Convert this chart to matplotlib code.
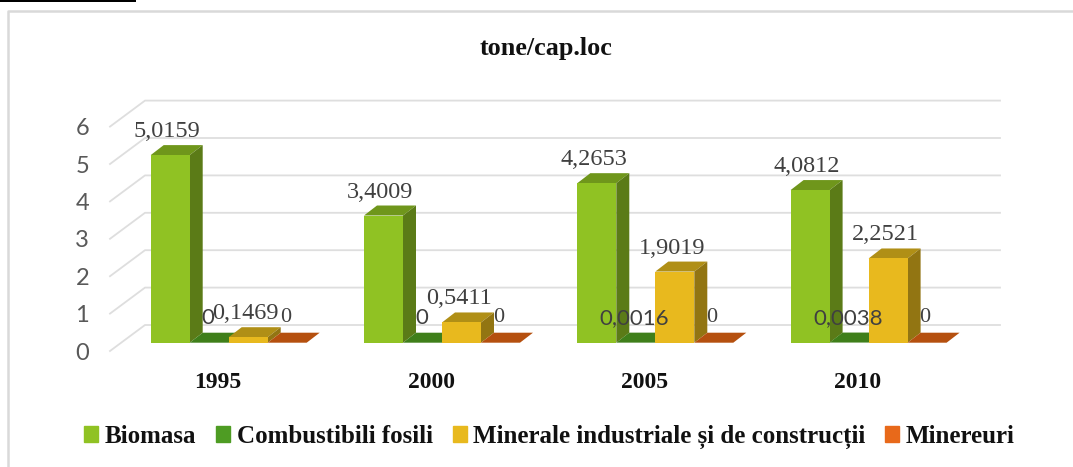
import matplotlib
matplotlib.use("Agg")
import matplotlib.pyplot as plt
from matplotlib.lines import Line2D
from matplotlib.patches import Rectangle

years = ["1995", "2000", "2005", "2010"]
series = ["Biomasa", "Combustibili fosili", "Minerale industriale și de construcții", "Minereuri"]
biomasa = [5.0159, 3.4009, 4.2653, 4.0812]
fosili = [0, 0, 0.0016, 0.0038]
minerale = [0.1469, 0.5411, 1.9019, 2.2521]
minereuri = [0, 0, 0, 0]
biomasa_labels = ["5,0159", "3,4009", "4,2653", "4,0812"]
fosili_labels = ["0", "0", "0,0016", "0,0038"]
minerale_labels = ["0,1469", "0,5411", "1,9019", "2,2521"]
minereuri_labels = ["0", "0", "0", "0"]

W, H = 1073, 467
SERIF = "Liberation Serif"
SANS = "Lato"

# front, side, top colours of each series
colors = [
    ("#90C223", "#5B7B17", "#6F961B"),
    ("#4E9C23", "#3E7C1B", "#3F7F1A"),
    ("#E8B91E", "#927512", "#B08F16"),
    ("#E8691A", "#B24F12", "#B5500F"),
]

fig = plt.figure(figsize=(W / 100, H / 100), dpi=100)
# axes: left/right edge of the side wall, y=0 and y=6 on its front edge
ax = fig.add_axes([110 / W, 1 - 351 / H, 890 / W, 224.4 / H])
ax.set_xlim((110 - 218) / 213.3, (1000 - 218) / 213.3)
ax.set_ylim(0, 6)
for s in ax.spines.values():
    s.set_visible(False)

unit_x = 213.3
unit_y = 37.4
bar_w = 39 / unit_x
left0 = (150.7 - 218) / unit_x
base = 8.3 / unit_y
dx = 13 / unit_x
dy = 10 / unit_y
back_x = 35 / unit_x
back_y = 26 / unit_y
label_up = 23.5 / unit_y
zero_up = 24.7 / unit_y

ax.set_yticks(range(7))
ax.set_xticks(range(len(years)))
ax.set_xticklabels(years, fontfamily=SERIF, fontweight="bold", fontsize=17, color="#111111")
ax.tick_params(axis="x", length=0, pad=15)
ax.tick_params(axis="y", length=0, pad=15, labelsize=17, labelcolor="#595959")
for t in ax.get_yticklabels():
    t.set_fontfamily(SANS)

# grid on the back wall and the side wall
xmin, xmax = ax.get_xlim()
for v in range(7):
    ax.plot([xmin, xmin + back_x, xmax], [v, v + back_y, v + back_y], color="#DEDEDE", lw=1.3,
            clip_on=False, zorder=1)

values = [biomasa, fosili, minerale, minereuri]
for i in range(len(years)):
    for j, vals in enumerate(values):
        x0 = i + left0 + j * bar_w
        x1 = x0 + bar_w
        y0 = base
        y1 = base + vals[i]
        front, side, top = colors[j]
        z = 2 + i + j * 0.1
        ax.fill([x0, x1, x1 + dx, x0 + dx], [y1, y1, y1 + dy, y1 + dy], color=top, lw=0, clip_on=False, zorder=z)
        ax.fill([x1, x1 + dx, x1 + dx, x1], [y0, y0 + dy, y1 + dy, y1], color=side, lw=0, clip_on=False, zorder=z)
        if vals[i] > 0.01:
            ax.fill([x0, x1, x1, x0], [y0, y0, y1, y1], color=front, lw=0, clip_on=False, zorder=z)

# data labels
for i in range(len(years)):
    ax.text(i + left0 + 0.42 * bar_w, base + biomasa[i] + label_up, biomasa_labels[i], family=SERIF, fontsize=17.5,
            color="#404040", ha="center", va="center", zorder=20)
    ax.text(i + left0 + 2.44 * bar_w, base + minerale[i] + label_up, minerale_labels[i], family=SERIF, fontsize=17.5,
            color="#404040", ha="center", va="center", zorder=20)
    ax.text(i + left0 + 1.47 * bar_w, base + zero_up, fosili_labels[i], family=SANS, fontsize=16,
            color="#404040", ha="center", va="center", zorder=20)
    ax.text(i + left0 + 3.45 * bar_w, base + zero_up, minereuri_labels[i], family=SERIF, fontsize=16,
            color="#404040", ha="center", va="center", zorder=20)

# chart title, frame and the rule left over at the top of the page
fig.text(546 / W, 1 - 48 / H, "tone/cap.loc", family=SERIF, fontweight="bold", fontsize=18.8, color="#111111",
         ha="center", va="center")
fig.add_artist(Line2D([1, 8 / W, 8 / W], [1 - 10.5 / H, 1 - 10.5 / H, 1 - 466 / H], transform=fig.transFigure,
                      color="#D9D9D9", lw=1.8))
fig.add_artist(Rectangle((0, 1 - 2 / H), 136 / W, 2 / H, transform=fig.transFigure, color="black", lw=0))

handles = [Rectangle((0, 0), 1, 1, color=c[0]) for c in colors]
leg = fig.legend(handles, series, loc="center", bbox_to_anchor=(549.5 / W, 1 - 437 / H), ncol=4, frameon=False,
                 prop={"family": SERIF, "weight": "bold", "size": 18}, handlelength=0.56, handleheight=0.56,
                 handletextpad=0.26, columnspacing=0.8, labelcolor="#111111")

fig.savefig("out.png", dpi=100)
